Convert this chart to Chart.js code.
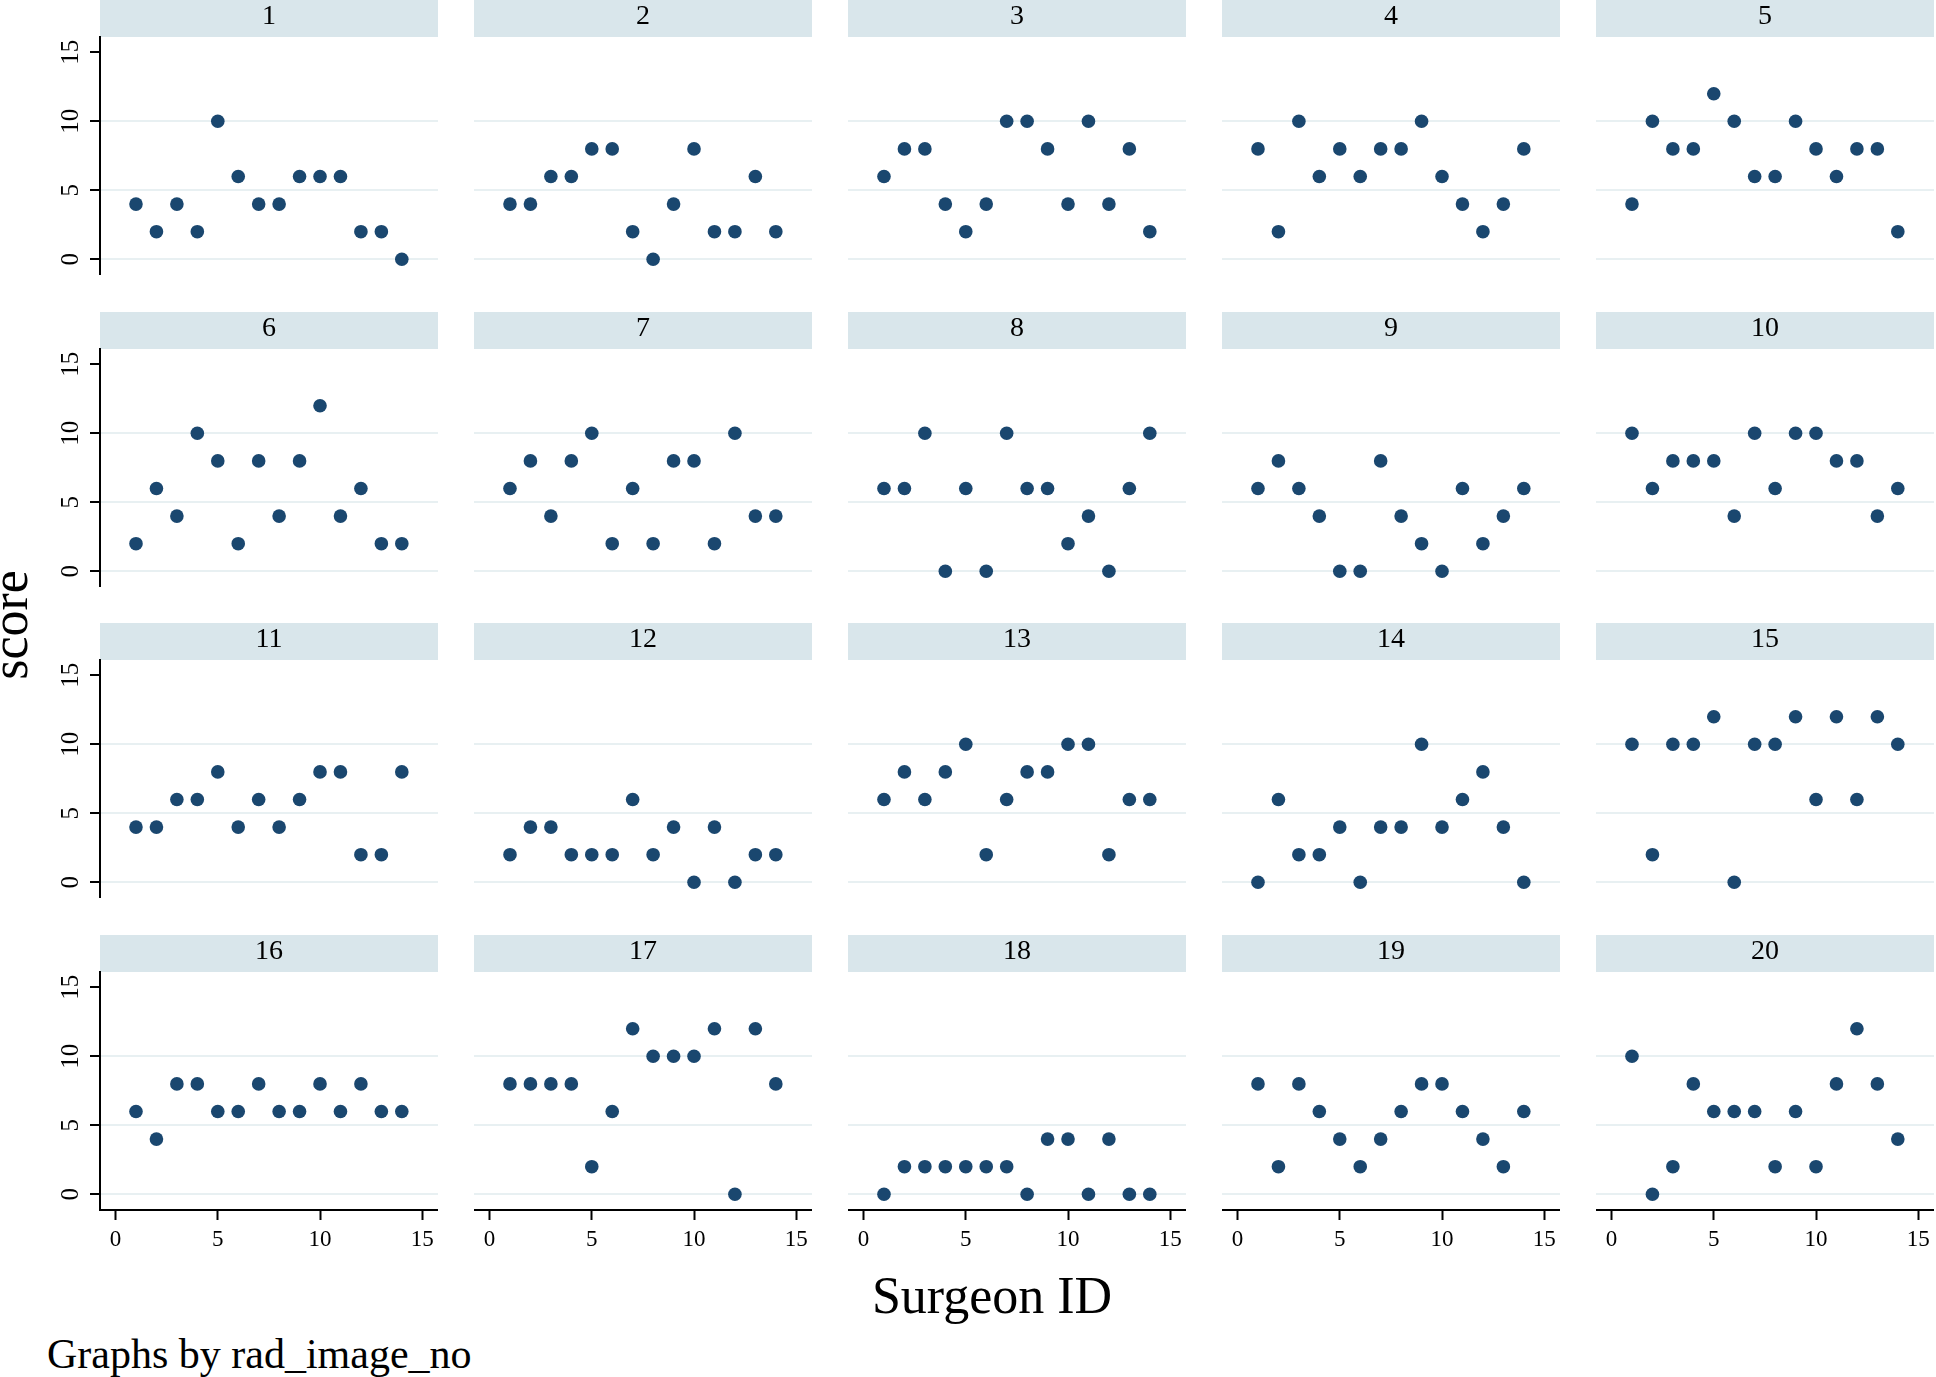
<!DOCTYPE html>
<html>
<head>
<meta charset="utf-8">
<script src="https://cdn.jsdelivr.net/npm/chart.js@4.4.1/dist/chart.umd.min.js"></script>
<style>
html, body { margin: 0; padding: 0; background: #fff; }
#wrap { position: relative; width: 1936px; height: 1377px; overflow: hidden;
        font-family: 'Liberation Serif', 'Times New Roman', serif; color: #000; background: #fff; }
#wrap canvas { position: absolute; }
.lbl { position: absolute; white-space: nowrap; line-height: 1; }
</style>
</head>
<body>
<div id="wrap">
  <div class="lbl" style="font-size:52px; left:10px; top:625px; transform: translate(-50%,-50%) rotate(-90deg);">score</div>
  <div class="lbl" style="font-size:52px; left:992px; top:1270px; transform: translateX(-50%);">Surgeon ID</div>
  <div class="lbl" style="font-size:42px; left:47px; top:1333px;">Graphs by rad_image_no</div>
</div>
<script>
// ---------------- data ----------------
const surgeonIds = [1, 2, 3, 4, 5, 6, 7, 8, 9, 10, 11, 12, 13, 14];
const panelLabels = ['1','2','3','4','5','6','7','8','9','10','11','12','13','14','15','16','17','18','19','20'];
const xTicks = [0, 5, 10, 15];
const yTicks = [0, 5, 10, 15];

const image1  = [4, 2, 4, 2, 10, 6, 4, 4, 6, 6, 6, 2, 2, 0];
const image2  = [4, 4, 6, 6, 8, 8, 2, 0, 4, 8, 2, 2, 6, 2];
const image3  = [6, 8, 8, 4, 2, 4, 10, 10, 8, 4, 10, 4, 8, 2];
const image4  = [8, 2, 10, 6, 8, 6, 8, 8, 10, 6, 4, 2, 4, 8];
const image5  = [4, 10, 8, 8, 12, 10, 6, 6, 10, 8, 6, 8, 8, 2];
const image6  = [2, 6, 4, 10, 8, 2, 8, 4, 8, 12, 4, 6, 2, 2];
const image7  = [6, 8, 4, 8, 10, 2, 6, 2, 8, 8, 2, 10, 4, 4];
const image8  = [6, 6, 10, 0, 6, 0, 10, 6, 6, 2, 4, 0, 6, 10];
const image9  = [6, 8, 6, 4, 0, 0, 8, 4, 2, 0, 6, 2, 4, 6];
const image10 = [10, 6, 8, 8, 8, 4, 10, 6, 10, 10, 8, 8, 4, 6];
const image11 = [4, 4, 6, 6, 8, 4, 6, 4, 6, 8, 8, 2, 2, 8];
const image12 = [2, 4, 4, 2, 2, 2, 6, 2, 4, 0, 4, 0, 2, 2];
const image13 = [6, 8, 6, 8, 10, 2, 6, 8, 8, 10, 10, 2, 6, 6];
const image14 = [0, 6, 2, 2, 4, 0, 4, 4, 10, 4, 6, 8, 4, 0];
const image15 = [10, 2, 10, 10, 12, 0, 10, 10, 12, 6, 12, 6, 12, 10];
const image16 = [6, 4, 8, 8, 6, 6, 8, 6, 6, 8, 6, 8, 6, 6];
const image17 = [8, 8, 8, 8, 2, 6, 12, 10, 10, 10, 12, 0, 12, 8];
const image18 = [0, 2, 2, 2, 2, 2, 2, 0, 4, 4, 0, 4, 0, 0];
const image19 = [8, 2, 8, 6, 4, 2, 4, 6, 8, 8, 6, 4, 2, 6];
const image20 = [10, 0, 2, 8, 6, 6, 6, 2, 6, 2, 8, 12, 8, 4];

const panelScores = [image1, image2, image3, image4, image5, image6, image7, image8, image9, image10,
                     image11, image12, image13, image14, image15, image16, image17, image18, image19, image20];

// ---------------- layout / style ----------------
const FONT = "'Liberation Serif', 'Times New Roman', serif";
const colLeft = [100, 474, 848, 1222, 1596];
const rowTop = [0, 312, 623, 935];
const PANEL_W = 338, HEADER_H = 37, PLOT_H = 238, YAXIS_W = 60, XAXIS_H = 60;
const MARKER = '#1a476f', HEADER_BG = '#d9e6eb', GRID = '#e8f0f2';

Chart.defaults.font.family = FONT;
Chart.defaults.color = '#000';

const headerBg = {
  id: 'headerBg',
  beforeDraw(chart) {
    const { ctx, chartArea: a } = chart;
    ctx.save();
    ctx.fillStyle = HEADER_BG;
    ctx.fillRect(a.left, 0, a.right - a.left, a.top);
    ctx.restore();
  }
};

const wrap = document.getElementById('wrap');

panelScores.forEach((scores, i) => {
  const r = Math.floor(i / 5), c = i % 5;
  const isFirst = c === 0, isBottom = r === 3;
  const w = PANEL_W + (isFirst ? YAXIS_W : 0);
  const h = HEADER_H + PLOT_H + (isBottom ? XAXIS_H : 0);
  const cv = document.createElement('canvas');
  cv.width = w; cv.height = h;
  cv.style.width = w + 'px'; cv.style.height = h + 'px';
  cv.style.left = (colLeft[c] - (isFirst ? YAXIS_W : 0)) + 'px';
  cv.style.top = rowTop[r] + 'px';
  wrap.appendChild(cv);

  new Chart(cv, {
    type: 'scatter',
    data: {
      datasets: [{
        data: surgeonIds.map((x, k) => ({ x: x, y: scores[k] })),
        backgroundColor: MARKER,
        borderWidth: 0,
        pointRadius: 6.8,
        pointHoverRadius: 6.8
      }]
    },
    plugins: [headerBg],
    options: {
      responsive: false,
      animation: false,
      devicePixelRatio: 1,
      events: [],
      layout: { padding: 0, autoPadding: false },
      plugins: {
        legend: { display: false },
        tooltip: { enabled: false },
        title: {
          display: true, text: panelLabels[i], fullSize: false, color: '#000',
          font: { size: 28, weight: 'normal', lineHeight: 1.2 },
          padding: { top: 0, bottom: 3.4 }
        }
      },
      scales: {
        x: {
          type: 'linear', min: -0.76, max: 15.77, position: 'bottom', display: isBottom,
          afterBuildTicks: s => { s.ticks = xTicks.map(v => ({ value: v })); },
          afterFit: s => { s.height = isBottom ? XAXIS_H : 0; s.paddingLeft = 0; s.paddingRight = 0; },
          border: { display: true, color: '#000', width: 2 },
          grid: { drawOnChartArea: false, drawTicks: true, tickLength: 10, tickColor: '#000', tickWidth: 2, color: '#000' },
          ticks: { color: '#000', font: { size: 23 }, padding: 6, minRotation: 0, maxRotation: 0, autoSkip: false }
        },
        y: {
          type: 'linear', min: -1.14, max: 16.11, position: 'left',
          afterBuildTicks: s => { s.ticks = yTicks.map(v => ({ value: v })); },
          afterFit: s => { s.width = isFirst ? YAXIS_W : 0; s.paddingTop = 0; s.paddingBottom = 0; },
          border: { display: isFirst, color: '#000', width: 2 },
          grid: {
            color: ctx => (ctx.tick && ctx.tick.value === 15) ? 'rgba(0,0,0,0)' : GRID,
            lineWidth: 2, drawTicks: isFirst, tickLength: 10, tickColor: '#000', tickWidth: 2
          },
          ticks: { display: isFirst, color: '#000', font: { size: 25 }, padding: 6,
                   minRotation: 90, maxRotation: 90, crossAlign: 'center', autoSkip: false }
        }
      }
    }
  });
});
</script>
</body>
</html>
